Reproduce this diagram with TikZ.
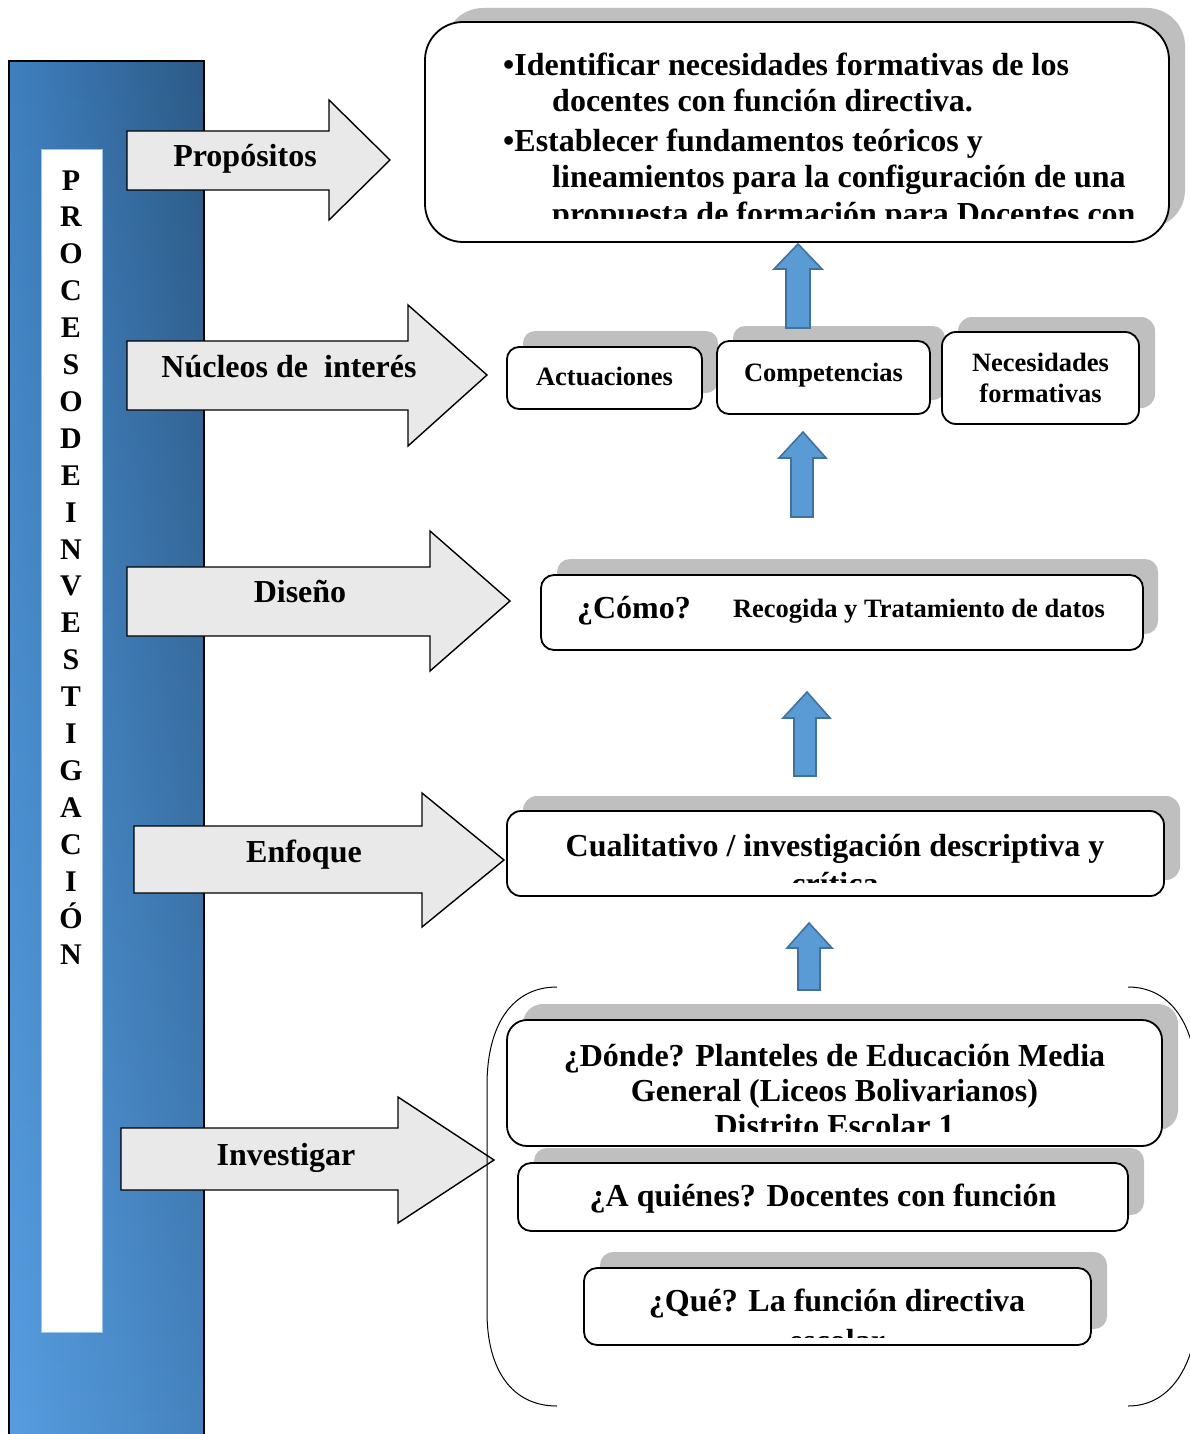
\documentclass[tikz,border=0pt]{standalone}
\usepackage{fontspec}
\setmainfont{Liberation Serif}
\usetikzlibrary{fadings}
\definecolor{shadowgray}{HTML}{BFBFBF}
\definecolor{arrowgray}{HTML}{E9E9E9}
\definecolor{upblue}{HTML}{5B9BD5}
\definecolor{upedge}{HTML}{41719C}
\definecolor{topleft}{HTML}{3F80C0}
\definecolor{topright}{HTML}{2C5A86}
\definecolor{botleft}{HTML}{579DE0}
\definecolor{botright}{HTML}{4583BF}
\definecolor{innerblue}{HTML}{9DC3E6}
\tikzfading[name=fadetop, top color=transparent!100, bottom color=transparent!0]
\begin{document}
\begin{tikzpicture}[x=1pt,y=-1pt,
  shadowbox/.style={fill=shadowgray, draw=none},
  whitebox/.style={fill=white, draw=black, line width=1.8pt},
  blockarrow/.style={fill=arrowgray, draw=black, line width=1.4pt, line join=miter},
  uparrow/.style={fill=upblue, draw=upedge, line width=1.6pt, line join=miter},
  lbl/.style={font=\bfseries\fontsize{32}{37}\selectfont, inner sep=0pt, anchor=base},
  lblw/.style={font=\bfseries\fontsize{32}{37}\selectfont, inner sep=0pt, anchor=base west},
  smalllbl/.style={font=\bfseries\fontsize{26.5}{31}\selectfont, inner sep=0pt, anchor=base},
  vletter/.style={font=\bfseries\fontsize{30}{36}\selectfont, inner sep=0pt, text height=20pt, text depth=0pt},
  bracket/.style={draw=black, line width=1pt}
]
\useasboundingbox (0,0) rectangle (1190,1434);
\fill[white] (0,0) rectangle (1190,1434);
\clip (0,0) rectangle (1190,1434);

% left bar
\shade[left color=topleft, right color=topright] (9,61) rectangle (204,1445);
\shade[left color=botleft, right color=botright, path fading=fadetop] (9,61) rectangle (204,1445);
\draw[line width=1.5pt] (9,1445) -- (9,61) -- (204,61) -- (204,1445);
\draw[fill=white, draw=innerblue, line width=1pt] (41,150) rectangle (102,1332);
\foreach \l [count=\i] in {P,R,O,C,E,S,O,D,E,I,N,V,E,S,T,I,G,A,C,I,Ó,N}
  \node[vletter] (t\i) at (71, {180+36.9*(\i-1)}) {\l};

% block arrows
\draw[blockarrow] (127,131) -- (329,131) -- (329,100) -- (390,160) -- (329,220) -- (329,190) -- (127,190) -- cycle;
\node[lbl] (lprop) at (245,167) {Propósitos};
\draw[blockarrow] (127,341) -- (408,341) -- (408,305) -- (487,375) -- (408,446) -- (408,410) -- (127,410) -- cycle;
\node[lbl] (lnuc) at (289,377) {Núcleos de\ \ interés};
\draw[blockarrow] (127,567) -- (430,567) -- (430,531) -- (510,601) -- (430,671) -- (430,636) -- (127,636) -- cycle;
\node[lbl] (ldis) at (300,602) {Diseño};
\draw[blockarrow] (134,826) -- (422,826) -- (422,793) -- (504,860) -- (422,927) -- (422,893) -- (134,893) -- cycle;
\node[lbl] (lenf) at (304,862) {Enfoque};
\draw[blockarrow] (121,1128) -- (398,1128) -- (398,1097) -- (494,1160) -- (398,1223) -- (398,1190) -- (121,1190) -- cycle;
\node[lbl] (linv) at (286,1165) {Investigar};

% top box
\fill[shadowgray, rounded corners=38pt] (445,8) rectangle (1185,228);
\draw[whitebox, rounded corners=38pt] (425,22) rectangle (1169,242);
\begin{scope}
\clip (430,26) rectangle (1165,218);
\node[lblw] (p1) at (503,76) {•Identificar necesidades formativas de los};
\node[lblw] (p2) at (552,112) {docentes con función directiva.};
\node[lblw] (p3) at (503,152) {•Establecer fundamentos teóricos y};
\node[lblw] (p4) at (552,188) {lineamientos para la configuración de una};
\node[lblw] (p5) at (552,224) {propuesta de formación para Docentes con};
\end{scope}

% nucleos boxes
\fill[shadowgray, rounded corners=12pt] (523,331) rectangle (718,393);
\draw[whitebox, rounded corners=12pt] (507,347) rectangle (702,409);
\node[smalllbl] (act) at (604.5,385) {Actuaciones};
\fill[shadowgray, rounded corners=12pt] (733,326) rectangle (945,400);
\draw[whitebox, rounded corners=12pt] (717,341) rectangle (930,414);
\node[smalllbl] (comp) at (823.5,381) {Competencias};
\fill[shadowgray, rounded corners=14pt] (958,317) rectangle (1155,408);
\draw[whitebox, rounded corners=14pt] (942,332) rectangle (1139,424);
\node[smalllbl] (nec1) at (1040.5,371) {Necesidades};
\node[smalllbl] (nec2) at (1040.5,402) {formativas};

% diseño box
\fill[shadowgray, rounded corners=13pt] (557,559) rectangle (1158,634);
\draw[whitebox, rounded corners=13pt] (541,575) rectangle (1143,650);
\node[lbl] (como) at (634,618) {¿Cómo?};
\node[smalllbl] (recog) at (919,617) {Recogida y Tratamiento de datos};

% enfoque box
\fill[shadowgray, rounded corners=14pt] (523,796) rectangle (1180,880);
\draw[whitebox, rounded corners=14pt] (507,811) rectangle (1164,896);
\begin{scope}
\clip (512,815) rectangle (1160,882);
\node[lbl] (cual1) at (835,856) {Cualitativo / investigación descriptiva y};
\node[lbl] (cual2) at (835,894) {crítica};
\end{scope}

% bracket
\draw[bracket] (557,987) .. controls (512,987) and (487,1025) .. (487,1085) -- (487,1312) .. controls (487,1370) and (512,1406) .. (557,1406);
\draw[bracket] (1128,987) .. controls (1168,987) and (1193,1020) .. (1197,1075) -- (1197,1318) .. controls (1193,1370) and (1168,1406) .. (1128,1406);

% donde box
\fill[shadowgray, rounded corners=20pt] (523,1004) rectangle (1178,1130);
\draw[whitebox, rounded corners=20pt] (507,1020) rectangle (1162,1146);
\begin{scope}
\clip (512,1024) rectangle (1158,1131);
\node[lbl] (don1) at (834.5,1066) {¿Dónde? Planteles de Educación Media};
\node[lbl] (don2) at (834.5,1101) {General (Liceos Bolivarianos)};
\node[lbl] (don3) at (834.5,1136) {Distrito Escolar 1};
\end{scope}

% a quienes box
\fill[shadowgray, rounded corners=13pt] (534,1148) rectangle (1144,1215);
\draw[whitebox, rounded corners=13pt] (518,1163) rectangle (1128,1231);
\node[lbl] (quien) at (823,1206) {¿A quiénes? Docentes con función};

% que box
\fill[shadowgray, rounded corners=13pt] (600,1252) rectangle (1107,1329);
\draw[whitebox, rounded corners=13pt] (584,1268) rectangle (1091,1345);
\begin{scope}
\clip (588,1272) rectangle (1087,1337);
\node[lbl] (que1) at (837,1311) {¿Qué? La función directiva};
\node[lbl] (que2) at (837,1351) {escolar};
\end{scope}

% up arrows
\draw[uparrow] (786,328) -- (786,269) -- (774,269) -- (798,244) -- (822,269) -- (810,269) -- (810,328) -- cycle;
\draw[uparrow] (791,517) -- (791,458) -- (779,458) -- (803,432) -- (826,458) -- (813,458) -- (813,517) -- cycle;
\draw[uparrow] (794,776) -- (794,718) -- (783,718) -- (807,692) -- (830,718) -- (816,718) -- (816,776) -- cycle;
\draw[uparrow] (798,990) -- (798,948) -- (787,948) -- (809,923) -- (832,948) -- (820,948) -- (820,990) -- cycle;
\end{tikzpicture}
\end{document}
